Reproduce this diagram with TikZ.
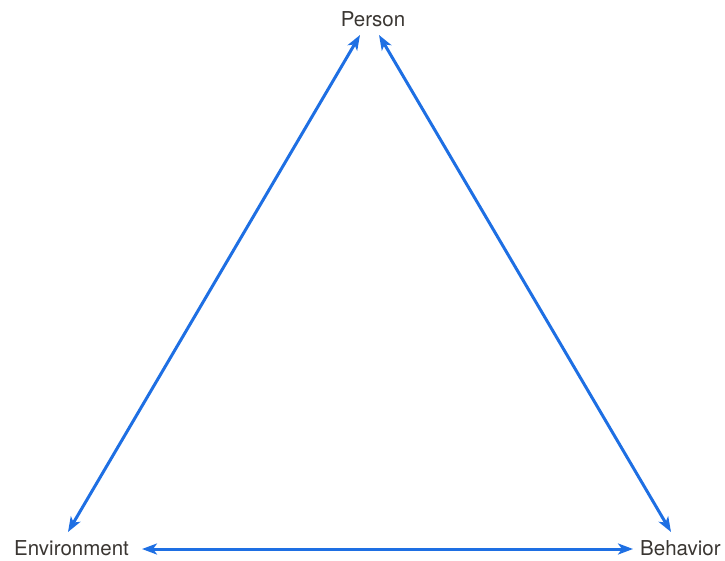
\documentclass[tikz,border=0pt]{standalone}
\usepackage{fontspec}
\setmainfont{TeX Gyre Heros}
\usetikzlibrary{arrows.meta}
\definecolor{arrowblue}{HTML}{1E6FE3}
\definecolor{labelgray}{HTML}{3A3632}
\tikzset{
  lbl/.style={inner sep=0pt, text=labelgray, font=\fontsize{20.5}{24}\selectfont},
  link/.style={draw=arrowblue, line width=3pt, {Stealth[length=15pt,width=11pt,inset=4pt]}-{Stealth[length=15pt,width=11pt,inset=4pt]}}
}
\begin{document}
\begin{tikzpicture}[x=1pt,y=-1pt]
\useasboundingbox (0,0) rectangle (725,561);
\node[lbl] (person) at (373,19) {Person};
\node[lbl, anchor=west] (env) at (14,548) {Environment};
\node[lbl, anchor=west] (beh) at (640,548) {Behavior};
\coordinate (pl) at (360,35);
\coordinate (pr) at (379,35);
\coordinate (el) at (68,532);
\coordinate (er) at (142,549);
\coordinate (bl) at (633,549);
\coordinate (bt) at (671,532);
\draw[link] (pl) -- (el);
\draw[link] (pr) -- (bt);
\draw[link] (er) -- (bl);
\end{tikzpicture}
\end{document}
